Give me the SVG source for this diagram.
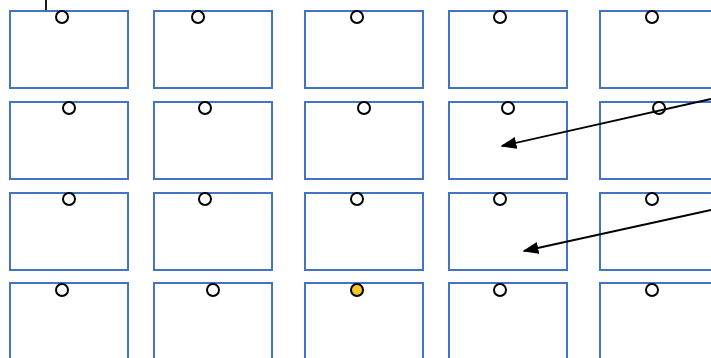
<svg xmlns="http://www.w3.org/2000/svg" width="711" height="358" viewBox="0 0 711 358">
<style>
.box{fill:#fff;stroke:#4472C4;stroke-width:2}
.pin{fill:#fff;stroke:#000;stroke-width:2}
.hot{fill:#F5C623}
.con{stroke:#000;stroke-width:1.8;fill:none}
</style>
<defs>
<marker id="ah2" viewBox="0 0 10 10" refX="9" refY="5" markerWidth="16" markerHeight="12" markerUnits="userSpaceOnUse" orient="auto" preserveAspectRatio="none"><path d="M0,0 L10,5 L0,10 z" fill="#000"/></marker>
</defs>
<rect width="711" height="358" fill="#fff"/>
<g id="n11"><rect class="box" x="10" y="11" width="118" height="77"/><circle class="pin" cx="62" cy="17" r="6"/></g>
<g id="n12"><rect class="box" x="154" y="11" width="118" height="77"/><circle class="pin" cx="198" cy="17" r="6"/></g>
<g id="n13"><rect class="box" x="305" y="11" width="118" height="77"/><circle class="pin" cx="357" cy="17" r="6"/></g>
<g id="n14"><rect class="box" x="449" y="11" width="118" height="77"/><circle class="pin" cx="500" cy="17" r="6"/></g>
<g id="n15"><rect class="box" x="600" y="11" width="118" height="77"/><circle class="pin" cx="652" cy="17" r="6"/></g>
<g id="n21"><rect class="box" x="10" y="102" width="118" height="77"/><circle class="pin" cx="69" cy="108" r="6"/></g>
<g id="n22"><rect class="box" x="154" y="102" width="118" height="77"/><circle class="pin" cx="205" cy="108" r="6"/></g>
<g id="n23"><rect class="box" x="305" y="102" width="118" height="77"/><circle class="pin" cx="364" cy="108" r="6"/></g>
<g id="n24"><rect class="box" x="449" y="102" width="118" height="77"/><circle class="pin" cx="508" cy="108" r="6"/></g>
<g id="n25"><rect class="box" x="600" y="102" width="118" height="77"/><circle class="pin" cx="659" cy="108" r="6"/></g>
<g id="n31"><rect class="box" x="10" y="193" width="118" height="77"/><circle class="pin" cx="69" cy="199" r="6"/></g>
<g id="n32"><rect class="box" x="154" y="193" width="118" height="77"/><circle class="pin" cx="205" cy="199" r="6"/></g>
<g id="n33"><rect class="box" x="305" y="193" width="118" height="77"/><circle class="pin" cx="357" cy="199" r="6"/></g>
<g id="n34"><rect class="box" x="449" y="193" width="118" height="77"/><circle class="pin" cx="500" cy="199" r="6"/></g>
<g id="n35"><rect class="box" x="600" y="193" width="118" height="77"/><circle class="pin" cx="652" cy="199" r="6"/></g>
<g id="n41"><rect class="box" x="10" y="283" width="118" height="77"/><circle class="pin" cx="62" cy="290" r="6"/></g>
<g id="n42"><rect class="box" x="154" y="283" width="118" height="77"/><circle class="pin" cx="213" cy="290" r="6"/></g>
<g id="n43"><rect class="box" x="305" y="283" width="118" height="77"/><circle class="pin hot" cx="357" cy="290" r="6"/></g>
<g id="n44"><rect class="box" x="449" y="283" width="118" height="77"/><circle class="pin" cx="500" cy="290" r="6"/></g>
<g id="n45"><rect class="box" x="600" y="283" width="118" height="77"/><circle class="pin" cx="652" cy="290" r="6"/></g>
<g id="connectors">
<line class="con" x1="46" y1="0" x2="46" y2="10"/>
<line class="con" x1="711" y1="99" x2="502" y2="146" marker-end="url(#ah2)"/>
<line class="con" x1="711" y1="210" x2="524" y2="251" marker-end="url(#ah2)"/>
</g>
</svg>
